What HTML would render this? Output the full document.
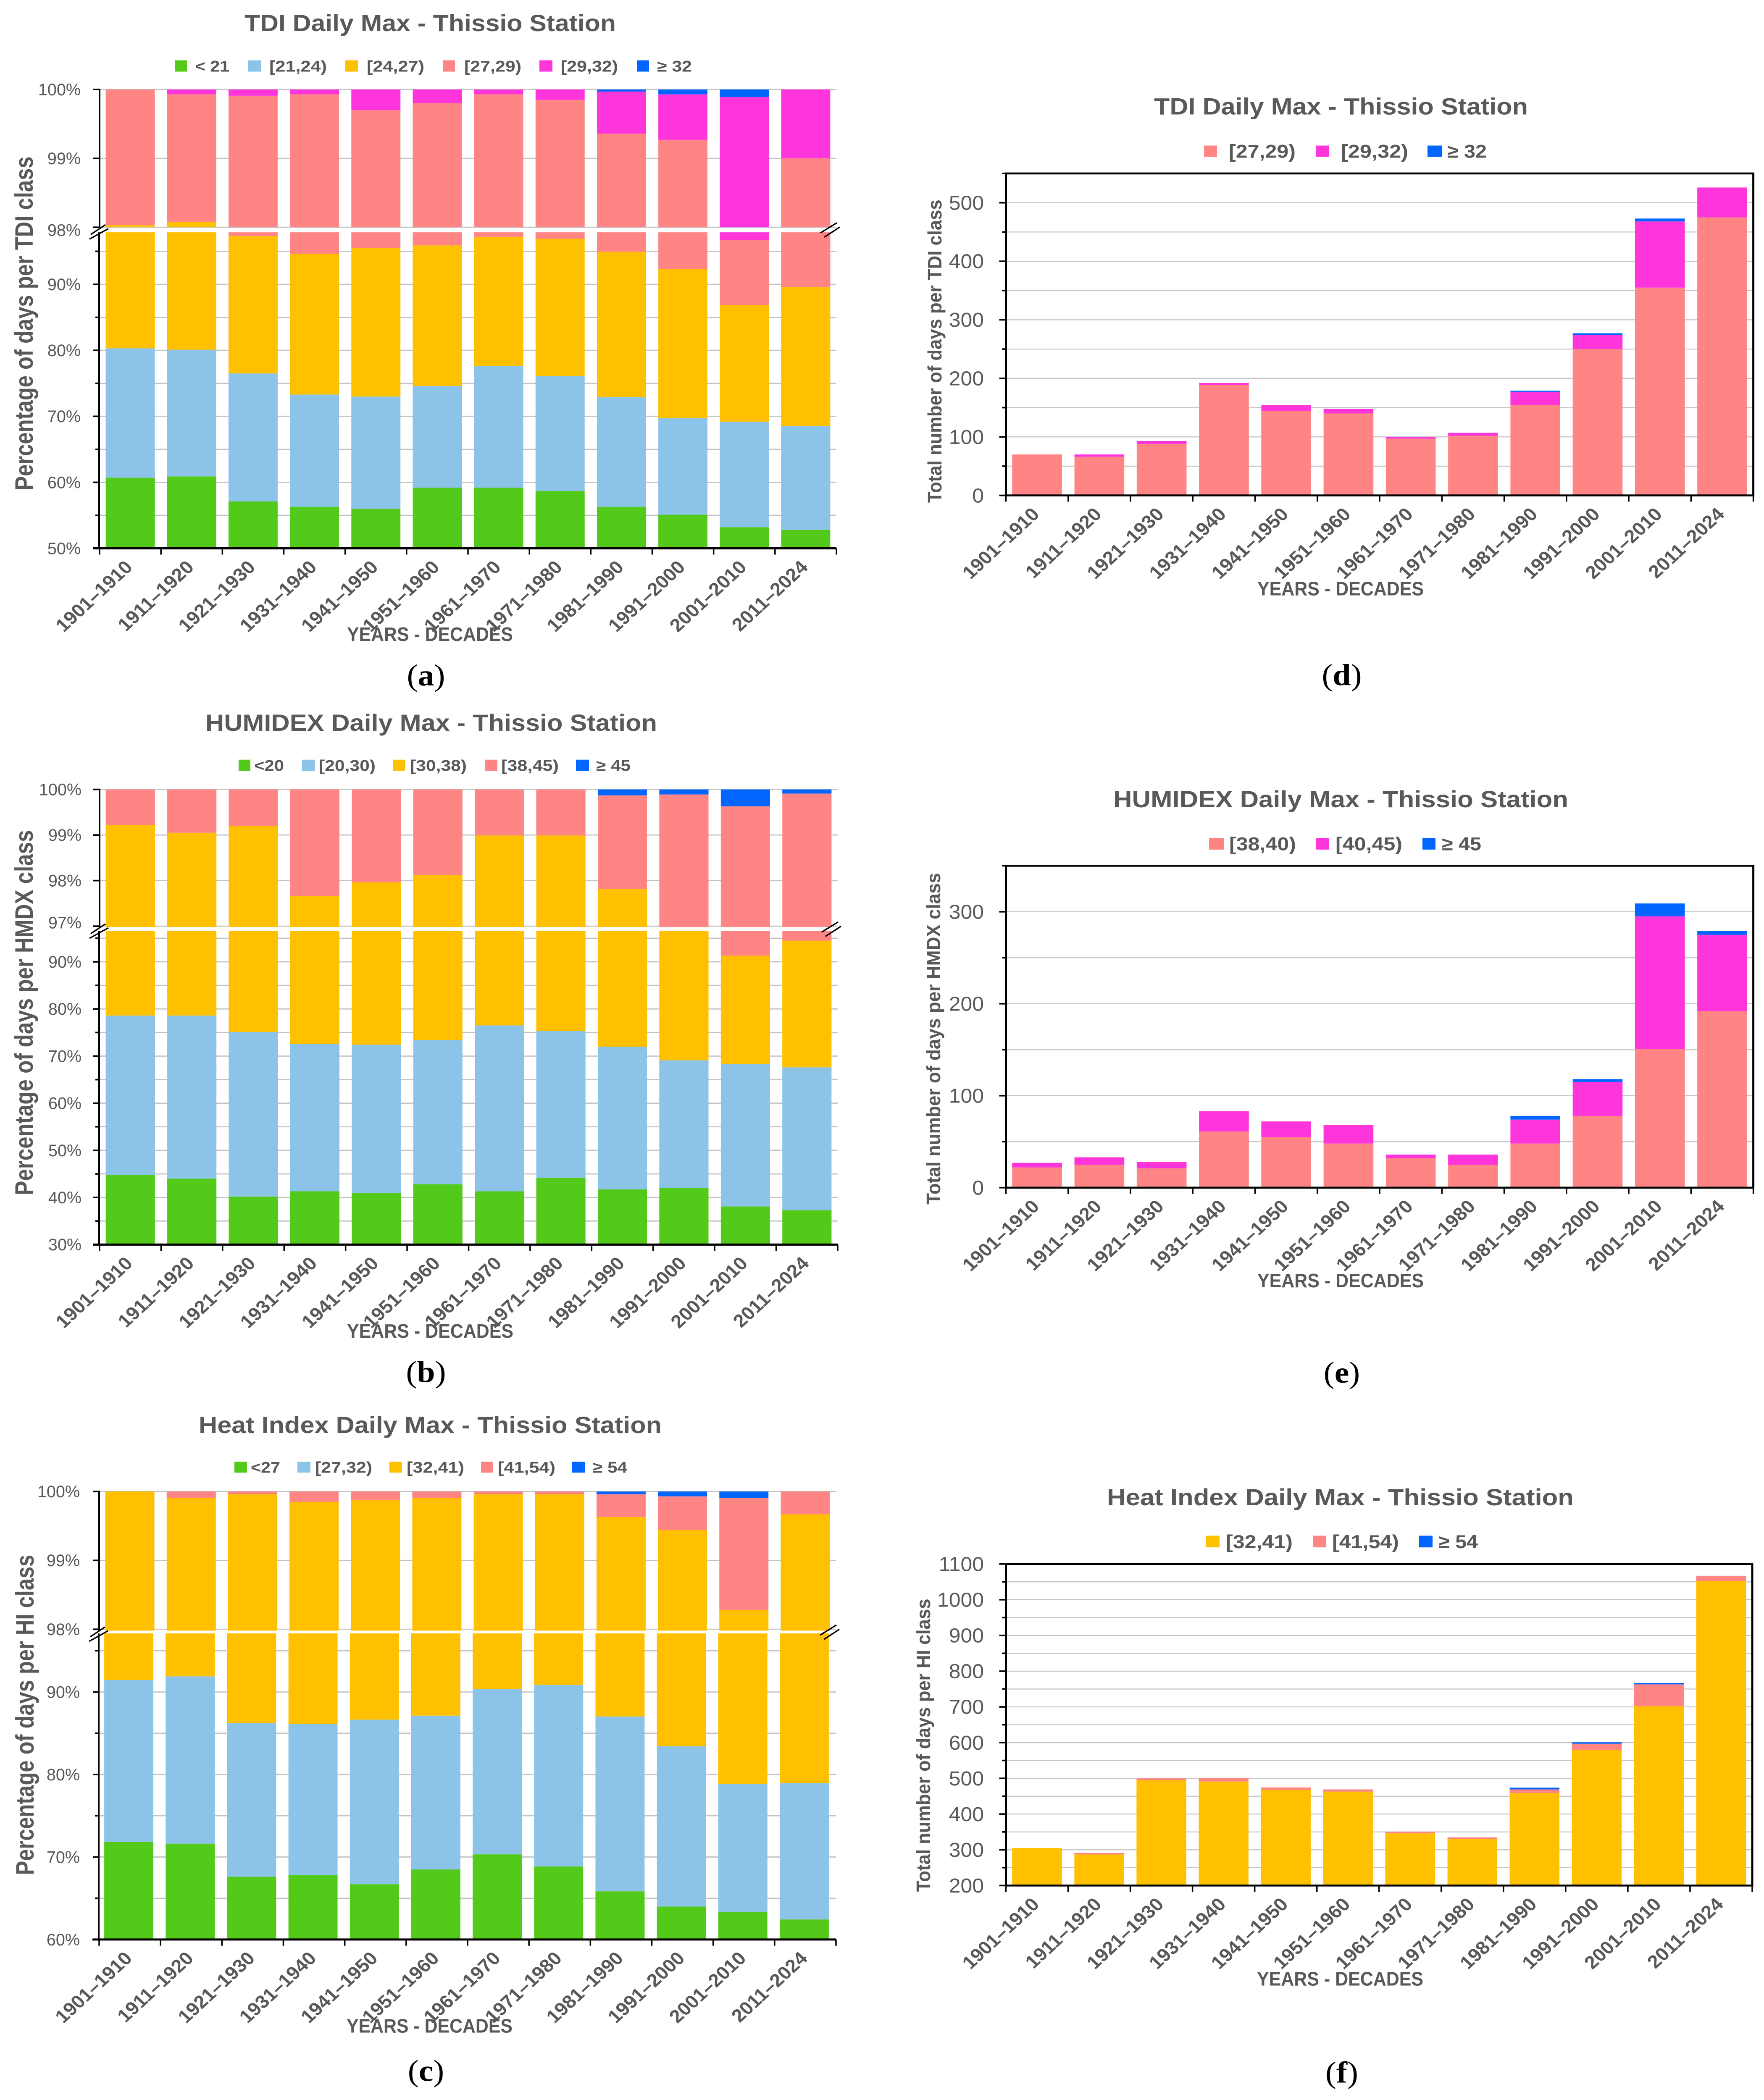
<!DOCTYPE html>
<html lang="en">
<head>
<meta charset="utf-8">
<title>Thissio Station thermal index charts</title>
<style>
html,body{margin:0;padding:0;background:#fff;width:100%;height:100%;overflow:hidden;}
svg{display:block;width:100vw;height:100vh;}
text{font-family:"Liberation Sans",sans-serif;fill:#595959;}
.title{font-size:60px;font-weight:bold;}
.leg{font-size:40px;font-weight:bold;}
.leg2{font-size:48px;font-weight:bold;}
.ytitle{font-size:60px;font-weight:bold;}
.ytitle2{font-size:46px;font-weight:bold;}
.xtitle{font-size:50px;font-weight:bold;}
.cap{font-family:"Liberation Serif",serif;font-size:78px;fill:#000;}
.cap tspan{font-weight:bold;fill:#000;font-family:"Liberation Serif",serif;}
</style>
</head>
<body>
<svg id="figure" xmlns="http://www.w3.org/2000/svg" viewBox="0 0 4199 5396" preserveAspectRatio="none">
<rect x="0" y="0" width="4199" height="5396" fill="#ffffff"/>

<g id="chart-a">
<g id="a-marks"></g>
<text class="title" x="582" y="80" textLength="884" lengthAdjust="spacingAndGlyphs">TDI Daily Max - Thissio Station</text>
<g>
<rect x="417" y="155" width="28" height="29" fill="#53C91A"/>
<text class="leg" x="465" y="184" textLength="81" lengthAdjust="spacingAndGlyphs">&lt; 21</text>
<rect x="591" y="155" width="30" height="29" fill="#8CC3E9"/>
<text class="leg" x="641" y="184" textLength="137" lengthAdjust="spacingAndGlyphs">[21,24)</text>
<rect x="822" y="155" width="30" height="29" fill="#FFC000"/>
<text class="leg" x="873" y="184" textLength="137" lengthAdjust="spacingAndGlyphs">[24,27)</text>
<rect x="1054" y="155" width="29" height="29" fill="#FF8585"/>
<text class="leg" x="1105" y="184" textLength="136" lengthAdjust="spacingAndGlyphs">[27,29)</text>
<rect x="1284" y="155" width="31" height="29" fill="#FF35DC"/>
<text class="leg" x="1335" y="184" textLength="136" lengthAdjust="spacingAndGlyphs">[29,32)</text>
<rect x="1516" y="155" width="29" height="29" fill="#0066FF"/>
<text class="leg" x="1564" y="184" textLength="83" lengthAdjust="spacingAndGlyphs">≥ 32</text>
</g>
<text class="ytitle" transform="translate(78,1260) rotate(-90)" textLength="858" lengthAdjust="spacingAndGlyphs">Percentage of days per TDI class</text>
<text class="xtitle" x="826" y="1647" textLength="395" lengthAdjust="spacingAndGlyphs">YEARS - DECADES</text>
<text class="cap" x="1014" y="1761" text-anchor="middle">(<tspan>a</tspan>)</text>
</g>

<g id="chart-b">
<g id="b-marks"></g>
<text class="title" x="489" y="1878" textLength="1075" lengthAdjust="spacingAndGlyphs">HUMIDEX Daily Max - Thissio Station</text>
<g>
<rect x="568" y="1952" width="28" height="29" fill="#53C91A"/>
<text class="leg" x="605" y="1981" textLength="71" lengthAdjust="spacingAndGlyphs">&lt;20</text>
<rect x="719" y="1952" width="30" height="29" fill="#8CC3E9"/>
<text class="leg" x="759" y="1981" textLength="135" lengthAdjust="spacingAndGlyphs">[20,30)</text>
<rect x="935" y="1952" width="29" height="29" fill="#FFC000"/>
<text class="leg" x="976" y="1981" textLength="135" lengthAdjust="spacingAndGlyphs">[30,38)</text>
<rect x="1154" y="1952" width="30" height="29" fill="#FF8585"/>
<text class="leg" x="1193" y="1981" textLength="137" lengthAdjust="spacingAndGlyphs">[38,45)</text>
<rect x="1371" y="1952" width="31" height="29" fill="#0066FF"/>
<text class="leg" x="1419" y="1981" textLength="82" lengthAdjust="spacingAndGlyphs">≥ 45</text>
</g>
<text class="ytitle" transform="translate(78,3071) rotate(-90)" textLength="938" lengthAdjust="spacingAndGlyphs">Percentage of days per HMDX class</text>
<text class="xtitle" x="826" y="3437" textLength="396" lengthAdjust="spacingAndGlyphs">YEARS - DECADES</text>
<text class="cap" x="1014" y="3551" text-anchor="middle">(<tspan>b</tspan>)</text>
</g>

<g id="chart-c">
<g id="c-marks"></g>
<text class="title" x="473" y="3682" textLength="1102" lengthAdjust="spacingAndGlyphs">Heat Index Daily Max - Thissio Station</text>
<g>
<rect x="558" y="3756" width="30" height="28" fill="#53C91A"/>
<text class="leg" x="597" y="3784" textLength="70" lengthAdjust="spacingAndGlyphs">&lt;27</text>
<rect x="708" y="3756" width="31" height="28" fill="#8CC3E9"/>
<text class="leg" x="750" y="3784" textLength="136" lengthAdjust="spacingAndGlyphs">[27,32)</text>
<rect x="927" y="3756" width="30" height="28" fill="#FFC000"/>
<text class="leg" x="968" y="3784" textLength="137" lengthAdjust="spacingAndGlyphs">[32,41)</text>
<rect x="1145" y="3756" width="29" height="28" fill="#FF8585"/>
<text class="leg" x="1185" y="3784" textLength="137" lengthAdjust="spacingAndGlyphs">[41,54)</text>
<rect x="1362" y="3756" width="31" height="28" fill="#0066FF"/>
<text class="leg" x="1411" y="3784" textLength="82" lengthAdjust="spacingAndGlyphs">≥ 54</text>
</g>
<text class="ytitle" transform="translate(80,4818) rotate(-90)" textLength="823" lengthAdjust="spacingAndGlyphs">Percentage of days per HI class</text>
<text class="xtitle" x="825" y="5223" textLength="395" lengthAdjust="spacingAndGlyphs">YEARS - DECADES</text>
<text class="cap" x="1014" y="5347" text-anchor="middle">(<tspan>c</tspan>)</text>
</g>

<g id="chart-d">
<g id="d-marks"></g>
<text class="title" x="2747" y="294" textLength="890" lengthAdjust="spacingAndGlyphs">TDI Daily Max - Thissio Station</text>
<g>
<rect x="2866" y="374" width="31" height="29" fill="#FF8585"/>
<text class="leg2" x="2925" y="405" textLength="159" lengthAdjust="spacingAndGlyphs">[27,29)</text>
<rect x="3133" y="374" width="31" height="29" fill="#FF35DC"/>
<text class="leg2" x="3192" y="405" textLength="160" lengthAdjust="spacingAndGlyphs">[29,32)</text>
<rect x="3398" y="374" width="34" height="29" fill="#0066FF"/>
<text class="leg2" x="3445" y="405" textLength="94" lengthAdjust="spacingAndGlyphs">≥ 32</text>
</g>
<text class="ytitle2" transform="translate(2241,1292) rotate(-90)" textLength="779" lengthAdjust="spacingAndGlyphs">Total number of days per TDI class</text>
<text class="xtitle" x="2993" y="1530" textLength="396" lengthAdjust="spacingAndGlyphs">YEARS - DECADES</text>
<text class="cap" x="3194" y="1760" text-anchor="middle">(<tspan>d</tspan>)</text>
</g>

<g id="chart-e">
<g id="e-marks"></g>
<text class="title" x="2650" y="2074" textLength="1083" lengthAdjust="spacingAndGlyphs">HUMIDEX Daily Max - Thissio Station</text>
<g>
<rect x="2878" y="2153" width="35" height="30" fill="#FF8585"/>
<text class="leg2" x="2926" y="2185" textLength="159" lengthAdjust="spacingAndGlyphs">[38,40)</text>
<rect x="3133" y="2153" width="31" height="30" fill="#FF35DC"/>
<text class="leg2" x="3179" y="2185" textLength="159" lengthAdjust="spacingAndGlyphs">[40,45)</text>
<rect x="3386" y="2153" width="31" height="30" fill="#0066FF"/>
<text class="leg2" x="3432" y="2185" textLength="94" lengthAdjust="spacingAndGlyphs">≥ 45</text>
</g>
<text class="ytitle2" transform="translate(2238,3095) rotate(-90)" textLength="852" lengthAdjust="spacingAndGlyphs">Total number of days per HMDX class</text>
<text class="xtitle" x="2993" y="3308" textLength="396" lengthAdjust="spacingAndGlyphs">YEARS - DECADES</text>
<text class="cap" x="3194" y="3553" text-anchor="middle">(<tspan>e</tspan>)</text>
</g>

<g id="chart-f">
<g id="f-marks"></g>
<text class="title" x="2635" y="3868" textLength="1111" lengthAdjust="spacingAndGlyphs">Heat Index Daily Max - Thissio Station</text>
<g>
<rect x="2871" y="3946" width="32" height="30" fill="#FFC000"/>
<text class="leg2" x="2918" y="3978" textLength="159" lengthAdjust="spacingAndGlyphs">[32,41)</text>
<rect x="3125" y="3946" width="32" height="30" fill="#FF8585"/>
<text class="leg2" x="3171" y="3978" textLength="159" lengthAdjust="spacingAndGlyphs">[41,54)</text>
<rect x="3378" y="3946" width="32" height="30" fill="#0066FF"/>
<text class="leg2" x="3424" y="3978" textLength="94" lengthAdjust="spacingAndGlyphs">≥ 54</text>
</g>
<text class="ytitle2" transform="translate(2214,4861) rotate(-90)" textLength="753" lengthAdjust="spacingAndGlyphs">Total number of days per HI class</text>
<text class="xtitle" x="2992" y="5102" textLength="396" lengthAdjust="spacingAndGlyphs">YEARS - DECADES</text>
<text class="cap" x="3194" y="5351" text-anchor="middle">(<tspan>f</tspan>)</text>
</g>
</svg>

<script>
// ---------- shared categories ----------
const categories = ["1901–1910","1911–1920","1921–1930","1931–1940","1941–1950","1951–1960","1961–1970","1971–1980","1981–1990","1991–2000","2001–2010","2011–2024"];

// ---------- chart (a): TDI, % of days per class ----------
const aLt21  = [60.7,60.9,57.1,56.3,56.0,59.2,59.2,58.7,56.3,55.1,53.2,52.8];
const a21_24 = [19.6,19.2,19.4,17.0,17.0,15.4,18.4,17.4,16.6,14.6,16.0,15.7];
const a24_27 = [17.73,17.98,20.8,21.3,22.5,21.3,19.6,20.8,22.05,22.6,17.65,21.05];
const a27_29 = [1.97,1.85,2.61,5.33,4.2,3.9,2.73,2.95,4.41,6.97,9.84,9.45];
const a29_32 = [0,0.07,0.09,0.07,0.3,0.2,0.07,0.15,0.61,0.66,3.2,1.0];
const aGe32  = [0,0,0,0,0,0,0,0,0.03,0.07,0.11,0];
const aUpperTicks = [100,99,98];
const aLowerMajor = [50,60,70,80,90];
const aLowerMinor = [55,65,75,85,95];

// ---------- chart (b): HUMIDEX, % of days per class ----------
const bLt20  = [44.8,44.0,40.2,41.3,41.0,42.8,41.3,44.2,41.7,42.0,38.1,37.3];
const b20_30 = [33.8,34.6,34.9,31.3,31.4,30.6,35.2,31.1,30.3,27.1,30.2,30.3];
const b30_38 = [20.62,20.45,24.1,25.06,25.56,24.72,22.49,23.69,25.82,27.6,23.0,26.9];
const b38_45 = [0.78,0.95,0.8,2.34,2.04,1.88,1.01,1.01,2.05,3.19,8.33,5.41];
const bGe45  = [0,0,0,0,0,0,0,0,0.13,0.11,0.37,0.09];
const bUpperTicks = [100,99,98,97];
const bLowerMajor = [30,40,50,60,70,80,90];
const bLowerMinor = [35,45,55,65,75,85,95];

// ---------- chart (c): Heat Index, % of days per class ----------
const cLt27  = [71.84,71.62,67.62,67.84,66.7,68.49,70.32,68.86,65.84,64.0,63.35,62.43];
const c27_32 = [19.62,20.27,18.6,18.27,19.95,18.65,20.06,22.0,21.19,19.41,15.51,16.54];
const c32_41 = [8.54,8.02,13.74,13.74,13.23,12.77,9.58,9.1,12.6,16.03,19.42,20.7];
const c41_54 = [0,0.09,0.04,0.15,0.12,0.09,0.04,0.04,0.33,0.49,1.63,0.33];
const cGe54  = [0,0,0,0,0,0,0,0,0.04,0.07,0.09,0];
const cUpperTicks = [100,99,98];
const cLowerMajor = [60,70,80,90];
const cLowerMinor = [65,75,85,95];

// ---------- chart (d): TDI, day counts ----------
const d27_29 = [70,66,88,189,144,140,97,102,154,250,355,475];
const d29_32 = [0,4,5,3,10,8,3,5,23,24,113,51];
const dGe32  = [0,0,0,0,0,0,0,0,2,3,5,0];
const dMajor = [0,100,200,300,400,500];
const dMinor = [50,150,250,350,450,550];

// ---------- chart (e): HUMIDEX, day counts ----------
const e38_40 = [22,25,21,61,55,48,32,25,48,78,151,192];
const e40_45 = [5,8,7,22,17,20,4,11,26,37,144,83];
const eGe45  = [0,0,0,0,0,0,0,0,4,3,14,4];
const eMajor = [0,100,200,300];
const eMinor = [50,150,250,350];

// ---------- chart (f): Heat Index, day counts ----------
const f32_41 = [305,287,495,491,468,463,346,330,459,579,702,1052];
const f41_54 = [0,4.5,5,9.5,6.5,6,5,5,10,18,61,15];
const fGe54  = [0,0,0,0,0,0,0,0,5,4,4,0];
const fMajor = [200,300,400,500,600,700,800,900,1000,1100];
const fMinor = [250,350,450,550,650,750,850,950,1050];

// ---------- palette ----------
const GREEN="#53C91A", BLUE="#8CC3E9", YELLOW="#FFC000", PINK="#FF8585", MAGENTA="#FF35DC", AZURE="#0066FF";
const GRID="#c4c4c4", TEXTC="#595959";
const SVGNS="http://www.w3.org/2000/svg";

function mkRect(parent,x,y,w,h,fill,name){
  const el=document.createElementNS(SVGNS,"rect");
  el.setAttribute("x",x);
  el.setAttribute("y",y);
  el.setAttribute("width",w);
  el.setAttribute("height",h);
  el.setAttribute("fill",fill);
  
  
  parent.appendChild(el);
  return el;
}
function mkLine(parent,x1,y1,x2,y2,stroke,width,name){
  const el=document.createElementNS(SVGNS,"line");
  el.setAttribute("x1",x1);
  el.setAttribute("y1",y1);
  el.setAttribute("x2",x2);
  el.setAttribute("y2",y2);
  el.setAttribute("stroke",stroke);
  el.setAttribute("stroke-width",width);
  
  
  parent.appendChild(el);
  return el;
}
function mkText(parent,str,tf,size,weight,anchor,name){
  const el=document.createElementNS(SVGNS,"text");
  el.textContent=str;
  el.setAttribute("transform",tf);
  el.setAttribute("font-size",size);
  el.setAttribute("font-weight",weight);
  el.setAttribute("text-anchor",anchor);
  el.setAttribute("fill",TEXTC);
  
  
  parent.appendChild(el);
  return el;
}
function xAxisCommon(g,x0,x1,base){
  const band=(x1-x0)/categories.length;
  for(let i=0;i<=categories.length;i++){
    mkLine(g,x0+i*band,base,x0+i*band,base+16,"#000",3.5,"x-axis-tick");
  }
  categories.forEach((c,i)=>{
    const cx=x0+(i+0.5)*band;
    mkText(g,c,"translate("+(cx+8)+","+(base+51)+") rotate(-45)",47,"bold","end","x-tick-label");
  });
}

// Broken-axis 100% stacked chart
function drawBroken(id,cfg,series,upperTicks,lowerMajor,lowerMinor){
  const g=document.getElementById(id);
  const yU=v=>cfg.upperTop+(100-v)*cfg.upperScale;
  const yL=v=>cfg.lowerBase-(v-cfg.lowerMin)*cfg.lowerScale;
  const band=(cfg.x1-cfg.x0)/categories.length;
  const lowerTopY=yL(cfg.lowerMax);
  const upperBotY=yU(cfg.upperMin);
  // grid
  upperTicks.forEach(t=>mkLine(g,cfg.x0,yU(t),cfg.x1,yU(t),GRID,3,"grid-line-upper"));
  lowerMajor.concat(lowerMinor).forEach(t=>{
    if(t>cfg.lowerMin) mkLine(g,cfg.x0,yL(t),cfg.x1,yL(t),GRID,3,"grid-line-lower");
  });
  // bars
  categories.forEach((c,i)=>{
    const xU=cfg.x0+(i+0.1)*band, w=band*0.8, xLo=xU+cfg.lowerDx;
    let cum=0;
    series.forEach(s=>{
      const lo=cum, hi=cum+s.values[i];
      cum=hi;
      if(hi<=lo) return;
      const uLo=Math.max(lo,cfg.upperMin), uHi=Math.min(hi,100);
      if(uHi>uLo) mkRect(g,xU,yU(uHi),w,yU(uLo)-yU(uHi),s.color,"bar-"+s.key+"-upper");
      const lLo=Math.max(lo,cfg.lowerMin), lHi=Math.min(hi,cfg.lowerMax);
      if(lHi>lLo) mkRect(g,xLo,yL(lHi),w,yL(lLo)-yL(lHi),s.color,"bar-"+s.key+"-lower");
    });
  });
  // y axis
  mkLine(g,cfg.x0,cfg.upperTop-2,cfg.x0,upperBotY,"#000",4,"y-axis-upper");
  mkLine(g,cfg.x0-1,lowerTopY,cfg.x0-1,cfg.lowerBase,"#000",4,"y-axis-lower");
  // ticks and labels
  upperTicks.forEach(t=>{
    mkLine(g,cfg.x0-15,yU(t),cfg.x0,yU(t),"#000",4,"y-axis-tick");
    const dy=(cfg.labelNudge[t]||0);
    mkText(g,t+"%","translate("+cfg.labelX+","+(yU(t)+15+dy)+") scale(0.92,1)",43,"normal","end","y-tick-label");
  });
  lowerMajor.forEach(t=>{
    mkLine(g,cfg.x0-15,yL(t),cfg.x0,yL(t),"#000",4,"y-axis-tick");
    mkText(g,t+"%","translate("+cfg.labelX+","+(yL(t)+15)+") scale(0.92,1)",43,"normal","end","y-tick-label");
  });
  lowerMinor.forEach(t=>mkLine(g,cfg.x0-10,yL(t),cfg.x0,yL(t),"#000",4,"y-axis-minor-tick"));
  // x axis
  mkLine(g,cfg.x0-16,cfg.lowerBase,cfg.x1,cfg.lowerBase,"#000",5.5,"x-axis");
  xAxisCommon(g,cfg.x0,cfg.x1,cfg.lowerBase);
  // break marks
  const by=(upperBotY+lowerTopY)/2;
  mkLine(g,cfg.x0-21,by+12,cfg.x0+14,by-13,"#000",3.5,"axis-break-mark");
  mkLine(g,cfg.x0-24,by+24,cfg.x0+21,by-3,"#000",3.5,"axis-break-mark");
  mkLine(g,cfg.x1-38,by+8,cfg.x1+1,by-18,"#000",3.5,"axis-break-mark");
  mkLine(g,cfg.x1-29,by+19,cfg.x1+8,by-7,"#000",3.5,"axis-break-mark");
}

// Framed stacked count chart
function drawCounts(id,cfg,series,major,minor){
  const g=document.getElementById(id);
  const y=v=>cfg.bottom-(v-cfg.min)*(cfg.bottom-cfg.top)/(cfg.max-cfg.min);
  const band=(cfg.x1-cfg.x0)/categories.length;
  major.concat(minor).forEach(t=>{
    if(t>cfg.min&&t<cfg.max) mkLine(g,cfg.x0,y(t),cfg.x1,y(t),GRID,2.5,"grid-line");
  });
  categories.forEach((c,i)=>{
    const x=cfg.x0+(i+0.1)*band, w=band*0.8;
    let cum=cfg.min;
    series.forEach(s=>{
      const start=(cum===cfg.min)?cfg.min:cum;
      const hi=(cum===cfg.min)?s.values[i]:cum+s.values[i];
      cum=hi;
      if(hi>start) mkRect(g,x,y(hi),w,y(start)-y(hi),s.color,"bar-"+s.key);
    });
  });
  major.forEach(t=>{
    mkLine(g,cfg.x0-16,y(t),cfg.x0,y(t),"#000",4,"y-axis-tick");
    mkText(g,String(t),"translate(2342,"+(y(t)+18)+") scale(0.96,1)",52,"normal","end","y-tick-label");
  });
  minor.forEach(t=>mkLine(g,cfg.x0-9,y(t),cfg.x0,y(t),"#000",4,"y-axis-minor-tick"));
  const frame=mkRect(g,cfg.x0,cfg.top,cfg.x1-cfg.x0,cfg.bottom-cfg.top,"none","plot-frame");
  frame.setAttribute("stroke","#000");
  frame.setAttribute("stroke-width","5");
  xAxisCommon(g,cfg.x0,cfg.x1,cfg.bottom);
}

drawBroken("a-marks",
  {x0:237,x1:1991,upperTop:230,upperScale:177,upperMin:98,lowerBase:1409,lowerMin:50,lowerScale:16.96,lowerMax:97.88,labelX:192,labelNudge:{98:7},lowerDx:0},
  [{key:"lt21",color:GREEN,values:aLt21},{key:"21-24",color:BLUE,values:a21_24},{key:"24-27",color:YELLOW,values:a24_27},{key:"27-29",color:PINK,values:a27_29},{key:"29-32",color:MAGENTA,values:a29_32},{key:"ge32",color:AZURE,values:aGe32}],
  aUpperTicks,aLowerMajor,aLowerMinor);

drawBroken("b-marks",
  {x0:237,x1:1994,upperTop:2028.5,upperScale:117.1,upperMin:96.98,lowerBase:3198,lowerMin:30,lowerScale:12.11,lowerMax:96.56,labelX:194,labelNudge:{97:-9},lowerDx:0},
  [{key:"lt20",color:GREEN,values:bLt20},{key:"20-30",color:BLUE,values:b20_30},{key:"30-38",color:YELLOW,values:b30_38},{key:"38-45",color:PINK,values:b38_45},{key:"ge45",color:AZURE,values:bGe45}],
  bUpperTicks,bLowerMajor,bLowerMinor);

drawBroken("c-marks",
  {x0:236,x1:1990,upperTop:3832.5,upperScale:177,upperMin:97.98,lowerBase:4983.6,lowerMin:60,lowerScale:21.2,lowerMax:97.1,labelX:190,labelNudge:{},lowerDx:-2.5},
  [{key:"lt27",color:GREEN,values:cLt27},{key:"27-32",color:BLUE,values:c27_32},{key:"32-41",color:YELLOW,values:c32_41},{key:"41-54",color:PINK,values:c41_54},{key:"ge54",color:AZURE,values:cGe54}],
  cUpperTicks,cLowerMajor,cLowerMinor);

drawCounts("d-marks",
  {x0:2394.5,x1:4173.6,top:445.7,bottom:1273,min:0,max:550},
  [{key:"27-29",color:PINK,values:d27_29},{key:"29-32",color:MAGENTA,values:d29_32},{key:"ge32",color:AZURE,values:dGe32}],
  dMajor,dMinor);

drawCounts("e-marks",
  {x0:2394.5,x1:4173.6,top:2224.6,bottom:3051.7,min:0,max:350},
  [{key:"38-40",color:PINK,values:e38_40},{key:"40-45",color:MAGENTA,values:e40_45},{key:"ge45",color:AZURE,values:eGe45}],
  eMajor,eMinor);

drawCounts("f-marks",
  {x0:2394.5,x1:4171,top:4018.7,bottom:4844.9,min:200,max:1100},
  [{key:"32-41",color:YELLOW,values:f32_41},{key:"41-54",color:PINK,values:f41_54},{key:"ge54",color:AZURE,values:fGe54}],
  fMajor,fMinor);
</script>
</body>
</html>
